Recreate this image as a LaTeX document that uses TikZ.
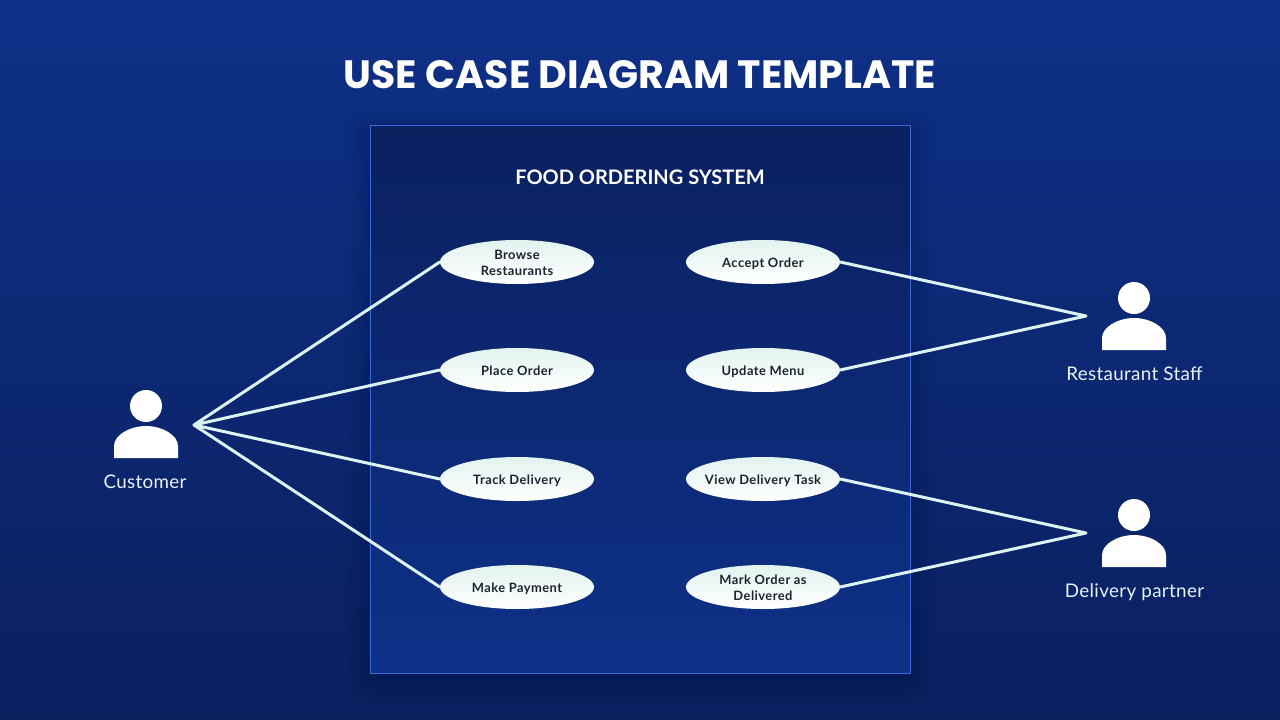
\documentclass[tikz,border=0pt]{standalone}
\usepackage{fontspec}
\setmainfont{Lato}
\newfontfamily\titlefont{Poppins}
\newfontfamily\casefont[LetterSpace=3.5]{Lato}
\newfontfamily\actorfont[LetterSpace=1.8]{Lato}
\usetikzlibrary{shapes.geometric}
\definecolor{bgtop}{HTML}{0E3087}
\definecolor{bgbot}{HTML}{0A205F}
\definecolor{pantop}{HTML}{0A2160}
\definecolor{panbot}{HTML}{0E3087}
\definecolor{panedge}{HTML}{3E68D8}
\definecolor{wire}{HTML}{DDF3F2}
\definecolor{uctop}{HTML}{E2F3EF}
\definecolor{ink}{HTML}{1B2430}
\definecolor{actortxt}{HTML}{E8F2FA}
\tikzset{
  x=1pt,y=-1pt,
  usecase/.style={ellipse,minimum width=154pt,minimum height=44pt,inner sep=-15pt,
    top color=uctop,bottom color=white,draw=none,text=ink,align=center,
    font=\casefont\fontsize{12.9}{16}\selectfont\bfseries},
  oneline/.style={text height=11pt,text depth=1pt},
  wireline/.style={draw=wire,line width=3pt,line cap=round,line join=round},
  actorshape/.style={fill=white,draw=none},
  actorlabel/.style={text=actortxt,font=\actorfont\fontsize{18.8}{22}\selectfont,inner sep=0pt},
}
\newcommand{\topstrut}{\rule{0pt}{11.5pt}}
\newcommand{\actorfig}[2]{% x of centre, y of head centre
  \fill[actorshape] (#1,#2) circle[radius=16];
  \fill[actorshape] (#1-32,#2+52) -- (#1-32,#2+40)
    .. controls (#1-32,#2+29) and (#1-16,#2+20) .. (#1,#2+20)
    .. controls (#1+16,#2+20) and (#1+32,#2+29) .. (#1+32,#2+40)
    -- (#1+32,#2+52) -- cycle;
}
\begin{document}
\begin{tikzpicture}
\useasboundingbox (0,0) rectangle (1280,720);
\shade[top color=bgtop,bottom color=bgbot,draw=none] (0,0) rectangle (1280,720);
% soft panel shadow
\foreach \g in {24,20,...,4}{
  \fill[black,opacity=0.016,rounded corners=\g pt] (370-\g,125-\g+6) rectangle (910+\g,673+\g+6);
}
\node[draw=panedge,line width=1pt,minimum width=540pt,minimum height=548pt,inner sep=0pt,
  top color=pantop,bottom color=panbot] (panel) at (640,399) {};
\node[text=white,inner sep=0pt,font=\titlefont\fontsize{39.5}{44}\selectfont\bfseries] (title) at (640,75) {USE CASE DIAGRAM TEMPLATE};
\node[text=white,inner sep=0pt,font=\fontsize{20}{24}\selectfont\bfseries] (sys) at (640,177) {FOOD ORDERING SYSTEM};

\node[usecase] (browse) at (517,262) {\topstrut Browse\\Restaurants};
\node[usecase,oneline] (place) at (517,370) {Place Order};
\node[usecase,oneline] (track) at (517,479) {Track Delivery};
\node[usecase,oneline] (pay) at (517,587) {Make Payment};
\node[usecase,oneline] (accept) at (763,262) {Accept Order};
\node[usecase,oneline] (menu) at (763,370) {Update Menu};
\node[usecase,oneline] (task) at (763,479) {View Delivery Task};
\node[usecase] (mark) at (763,587) {\topstrut Mark Order as\\Delivered};

\coordinate (cj) at (194,425);
\coordinate (rj) at (1086,316);
\coordinate (dj) at (1086,533);
\draw[wireline] (browse.west) -- (cj) -- (place.west);
\draw[wireline] (track.west) -- (cj) -- (pay.west);
\draw[wireline] (accept.east) -- (rj) -- (menu.east);
\draw[wireline] (task.east) -- (dj) -- (mark.east);

\actorfig{146}{406}
\actorfig{1134}{298}
\actorfig{1134}{515}
\node[actorlabel] (customer) at (145,482) {Customer};
\node[actorlabel] (staff) at (1134.5,374) {Restaurant Staff};
\node[actorlabel] (partner) at (1134.5,592) {Delivery partner};
\end{tikzpicture}
\end{document}
